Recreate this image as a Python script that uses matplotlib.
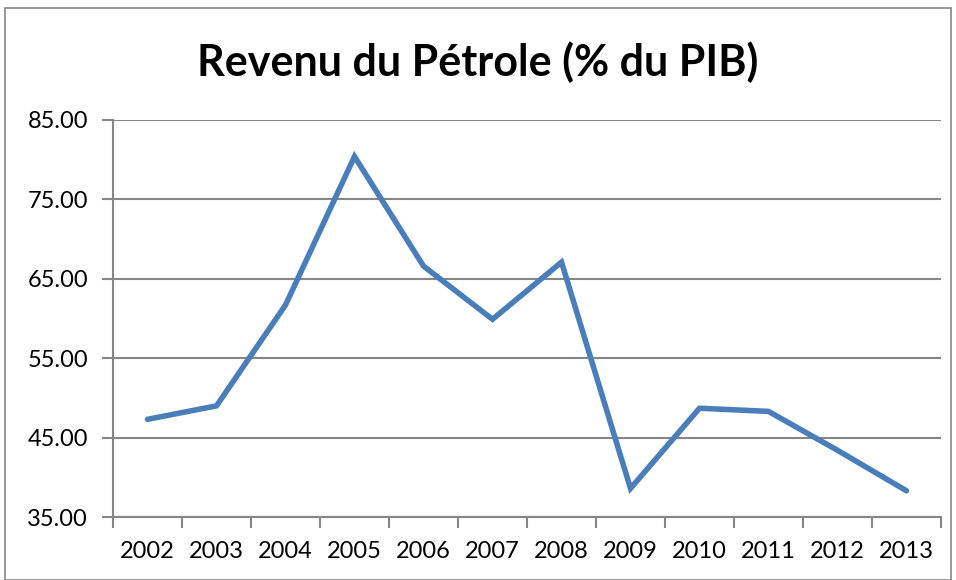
import matplotlib.pyplot as plt
from matplotlib.patches import Rectangle

# Revenu du pétrole en % du PIB, 2002-2013
years = ['2002', '2003', '2004', '2005', '2006', '2007',
         '2008', '2009', '2010', '2011', '2012', '2013']
values = [47.3, 49.0, 61.7, 80.4, 66.6, 59.9,
          67.1, 38.6, 48.7, 48.3, 43.4, 38.3]
yticks = [35, 45, 55, 65, 75, 85]

plt.rcParams['font.family'] = ['Lato', 'DejaVu Sans']

fig = plt.figure(figsize=(9.56, 5.8), dpi=100)
ax = fig.add_axes([113 / 956, 1 - 517 / 580, 828 / 956, 397 / 580])

x = list(range(len(years)))
ax.plot(x, values, color='#4A7EBB', linewidth=4, solid_joinstyle='miter',
        solid_capstyle='round', zorder=3)

ax.set_xlim(-0.5, len(years) - 0.5)
ax.set_ylim(35, 85)
ax.set_yticks(yticks)
ax.set_yticklabels([f'{v:.2f}' for v in yticks], fontsize=17)
ax.set_xticks(x)
ax.set_xticklabels(years, fontsize=17)
ax.set_xticks([i - 0.5 for i in range(len(years) + 1)], minor=True)
ax.tick_params(axis='x', which='major', length=0, pad=17)
ax.tick_params(axis='x', which='minor', length=8, width=1.5, color='#868686')
ax.tick_params(axis='y', length=8, width=1.5, color='#868686', pad=10)

ax.grid(axis='y', color='#868686', linewidth=1.5)
for s in ['top', 'right']:
    ax.spines[s].set_visible(False)
for s in ['left', 'bottom']:
    ax.spines[s].set_color('#868686')
    ax.spines[s].set_linewidth(1.5)

fig.text(0.5, 1 - 62 / 580, 'Revenu du Pétrole (% du PIB)', ha='center', va='center',
         fontsize=31, fontweight='bold')

# cadre du graphique
fig.patches.append(Rectangle((5 / 956, 0), 946 / 956, 1 - 8 / 580,
                             transform=fig.transFigure, fill=False,
                             edgecolor='#868686', linewidth=1.2))

fig.savefig('out.png', dpi=100)
